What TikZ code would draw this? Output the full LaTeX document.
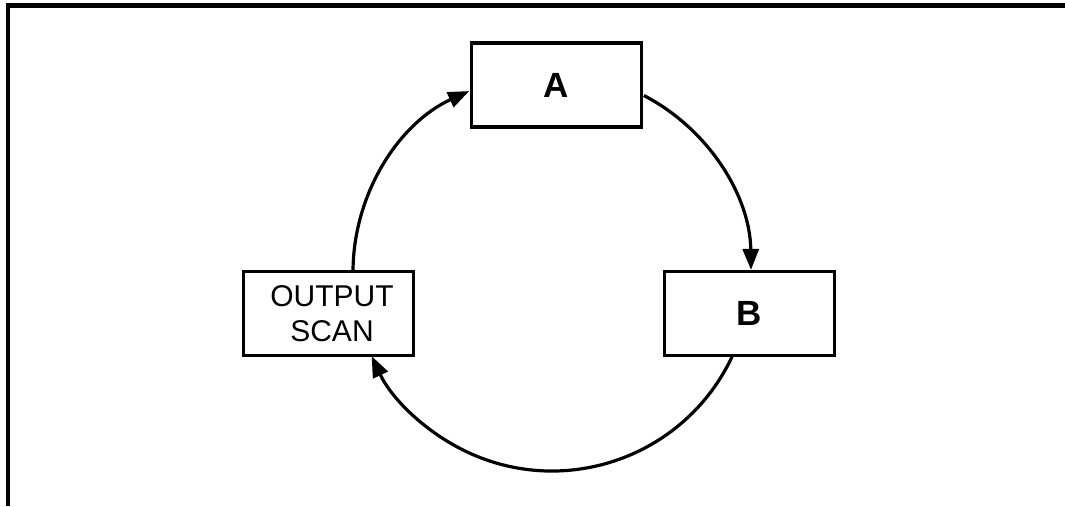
\documentclass[tikz,border=0pt]{standalone}
\usepackage{fontspec}
\setmainfont{Liberation Sans}
\usetikzlibrary{arrows.meta,calc}
\begin{document}
\begin{tikzpicture}[x=1pt,y=1pt,
  box/.style={draw,line width=3.2pt,minimum width=170pt,minimum height=84pt,inner sep=0pt,align=center},
  bigtxt/.style={font=\fontsize{35}{42}\selectfont\bfseries},
  smalltxt/.style={font=\fontsize{30}{35}\selectfont},
  arr/.style={line width=3.2pt,-{Triangle[length=21pt,width=16pt]}},
  frame/.style={line width=4.5pt}]
\useasboundingbox (0,0) rectangle (1065,506);
% frame (top and left sides only)
\coordinate (fbl) at (8,0);
\coordinate (ftl) at (8,500.7);
\coordinate (ftr) at (1065,500.7);
\draw[frame] (fbl) -- (ftl) -- (ftr);
% boxes
\node[box,bigtxt] (A) at (556.5,421) {A};
\node[box,bigtxt] (B) at (749.5,192.5) {B};
\node[box,smalltxt] (OS) at (328.5,192.5) {\hspace*{7pt}OUTPUT\\\hspace*{7pt}SCAN};
% circle centre
\coordinate (c) at (552,234);
\draw[arr] ($(c)+(179.4:199)$) arc[start angle=179.4,end angle=114.6,radius=199];
\draw[arr] ($(c)+(62.5:199)$) arc[start angle=62.5,end angle=0.6,radius=199];
\draw[arr] ($(c)+(-25.2:199)$) arc[start angle=-25.2,end angle=-155,radius=199];
\end{tikzpicture}
\end{document}
